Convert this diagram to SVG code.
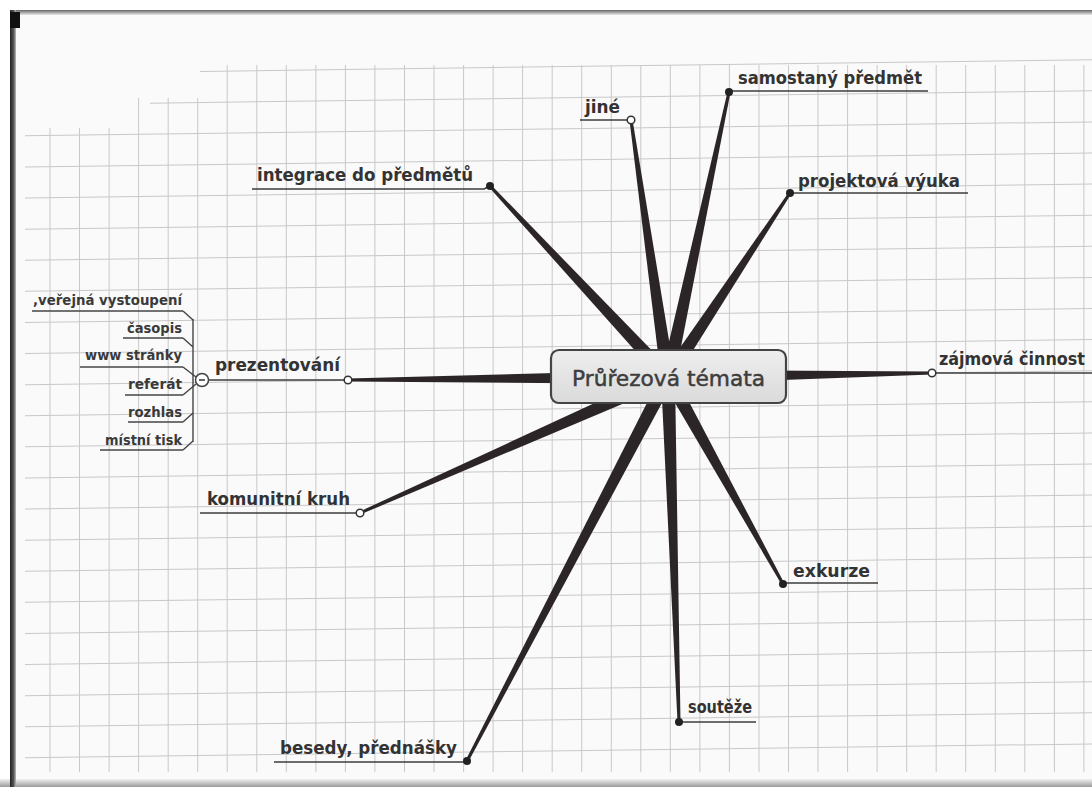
<svg xmlns="http://www.w3.org/2000/svg" width="1092" height="787" viewBox="0 0 1092 787">
<defs>
<linearGradient id="boxg" x1="0" y1="0" x2="0" y2="1">
<stop offset="0" stop-color="#eeeeee"/>
<stop offset="1" stop-color="#dadada"/>
</linearGradient>
<linearGradient id="topg" x1="0" y1="0" x2="0" y2="1">
<stop offset="0" stop-color="#666"/>
<stop offset="1" stop-color="#e8e8e8"/>
</linearGradient>
<linearGradient id="botg" x1="0" y1="0" x2="0" y2="1">
<stop offset="0" stop-color="#f2f2f2"/>
<stop offset="1" stop-color="#9a9a9a"/>
</linearGradient>
<linearGradient id="leftg" x1="0" y1="0" x2="1" y2="0">
<stop offset="0" stop-color="#222"/>
<stop offset="0.6" stop-color="#555"/>
<stop offset="1" stop-color="#bbb"/>
</linearGradient>
<style>
.grid line{stroke:#c8c8c8;stroke-width:1}
.wedge{fill:#2b2527}
.lbl{font-family:"DejaVu Sans",sans-serif;font-weight:bold;font-size:17px;fill:#333}
.sub{font-family:"DejaVu Sans",sans-serif;font-weight:bold;font-size:14px;fill:#3a3a3a}
.ul{stroke:#3c3c3c;stroke-width:1.6;fill:none}
.uls{stroke:#444;stroke-width:1.4;fill:none}
.dot{fill:#222}
.odot{fill:#fff;stroke:#333;stroke-width:1.5}
</style>
</defs>

<rect x="0" y="0" width="1092" height="787" fill="#fafafa"/>
<rect x="0" y="0" width="1092" height="10" fill="#fff"/>
<rect x="0" y="0" width="10" height="787" fill="#fff"/>

<g class="grid" id="grid">
<g id="vlines">
<line x1="50" y1="128" x2="50" y2="772"/>
<line x1="79.5" y1="128" x2="79.5" y2="772"/>
<line x1="109.1" y1="128" x2="109.1" y2="772"/>
<line x1="138.6" y1="98" x2="138.6" y2="772"/>
<line x1="168.2" y1="98" x2="168.2" y2="772"/>
<line x1="197.7" y1="98" x2="197.7" y2="772"/>
<line x1="227.2" y1="65" x2="227.2" y2="772"/>
<line x1="256.8" y1="65" x2="256.8" y2="772"/>
<line x1="286.3" y1="65" x2="286.3" y2="772"/>
<line x1="315.9" y1="65" x2="315.9" y2="772"/>
<line x1="345.4" y1="65" x2="345.4" y2="772"/>
<line x1="374.9" y1="65" x2="374.9" y2="772"/>
<line x1="404.5" y1="65" x2="404.5" y2="772"/>
<line x1="434" y1="65" x2="434" y2="772"/>
<line x1="463.6" y1="65" x2="463.6" y2="772"/>
<line x1="493.1" y1="65" x2="493.1" y2="772"/>
<line x1="522.6" y1="65" x2="522.6" y2="772"/>
<line x1="552.2" y1="65" x2="552.2" y2="772"/>
<line x1="581.7" y1="65" x2="581.7" y2="772"/>
<line x1="611.3" y1="65" x2="611.3" y2="772"/>
<line x1="640.8" y1="65" x2="640.8" y2="772"/>
<line x1="670.3" y1="65" x2="670.3" y2="772"/>
<line x1="699.9" y1="65" x2="699.9" y2="772"/>
<line x1="729.4" y1="65" x2="729.4" y2="772"/>
<line x1="759" y1="65" x2="759" y2="772"/>
<line x1="788.5" y1="65" x2="788.5" y2="772"/>
<line x1="818" y1="65" x2="818" y2="772"/>
<line x1="847.6" y1="65" x2="847.6" y2="772"/>
<line x1="877.1" y1="65" x2="877.1" y2="772"/>
<line x1="906.7" y1="65" x2="906.7" y2="772"/>
<line x1="936.2" y1="65" x2="936.2" y2="772"/>
<line x1="965.7" y1="65" x2="965.7" y2="772"/>
<line x1="995.3" y1="65" x2="995.3" y2="772"/>
<line x1="1024.8" y1="65" x2="1024.8" y2="772"/>
<line x1="1054.4" y1="65" x2="1054.4" y2="772"/>
<line x1="1083.9" y1="65" x2="1083.9" y2="772"/>
</g>
<g id="hlines" transform="skewY(-0.75)">
<line x1="200" y1="74" x2="1092" y2="74"/>
<line x1="150" y1="105.1" x2="1092" y2="105.1"/>
<line x1="25" y1="136.2" x2="1092" y2="136.2"/>
<line x1="25" y1="167.3" x2="1092" y2="167.3"/>
<line x1="25" y1="198.4" x2="1092" y2="198.4"/>
<line x1="25" y1="229.5" x2="1092" y2="229.5"/>
<line x1="25" y1="260.6" x2="1092" y2="260.6"/>
<line x1="25" y1="291.7" x2="1092" y2="291.7"/>
<line x1="25" y1="322.8" x2="1092" y2="322.8"/>
<line x1="25" y1="353.9" x2="1092" y2="353.9"/>
<line x1="25" y1="385" x2="1092" y2="385"/>
<line x1="25" y1="416.1" x2="1092" y2="416.1"/>
<line x1="25" y1="447.2" x2="1092" y2="447.2"/>
<line x1="25" y1="478.3" x2="1092" y2="478.3"/>
<line x1="25" y1="509.4" x2="1092" y2="509.4"/>
<line x1="25" y1="540.5" x2="1092" y2="540.5"/>
<line x1="25" y1="571.6" x2="1092" y2="571.6"/>
<line x1="25" y1="602.7" x2="1092" y2="602.7"/>
<line x1="25" y1="633.8" x2="1092" y2="633.8"/>
<line x1="25" y1="664.9" x2="1092" y2="664.9"/>
<line x1="25" y1="696" x2="1092" y2="696"/>
<line x1="25" y1="727.1" x2="1092" y2="727.1"/>
<line x1="25" y1="758.2" x2="1092" y2="758.2"/>
</g>
</g>

<!-- frame of the scan -->
<rect x="10" y="10" width="1082" height="5" fill="url(#topg)"/>
<rect x="0" y="779" width="1092" height="8" fill="url(#botg)"/>
<rect x="10" y="10" width="6" height="777" fill="url(#leftg)"/>
<rect x="10" y="12" width="10" height="16" fill="#111"/>

<g id="connectors">
<polygon class="wedge" points="0,-1.5 291.5,-7 291.5,7 0,1.5" transform="translate(729,92) rotate(102.08)"/>
<polygon class="wedge" points="0,-1.5 259.6,-7 259.6,7 0,1.5" transform="translate(631,120) rotate(81.81)"/>
<polygon class="wedge" points="0,-1.5 220.8,-7 220.8,7 0,1.5" transform="translate(790,193) rotate(123.55)"/>
<polygon class="wedge" points="0,-1.5 261.1,-7 261.1,7 0,1.5" transform="translate(490,186) rotate(47.02)"/>
<polygon class="wedge" points="0,-1.5 320,-7 320,7 0,1.5" transform="translate(348,380) rotate(-0.54)"/>
<polygon class="wedge" points="0,-1.5 264,-7 264,7 0,1.5" transform="translate(932,373) rotate(179.13)"/>
<polygon class="wedge" points="0,-1.5 336.7,-7 336.7,7 0,1.5" transform="translate(360,513) rotate(-23.82)"/>
<polygon class="wedge" points="0,-1.5 433.4,-7 433.4,7 0,1.5" transform="translate(467,761) rotate(-62.37)"/>
<polygon class="wedge" points="0,-1.5 345.2,-7 345.2,7 0,1.5" transform="translate(679,722) rotate(-91.83)"/>
<polygon class="wedge" points="0,-1.5 236.8,-7 236.8,7 0,1.5" transform="translate(783,584) rotate(-119.05)"/>
<!-- sub-branch bracket of prezentování -->
<path class="uls" d="M193,319 V442"/>
<path class="uls" d="M183,311 L193,320"/>
<path class="uls" d="M183,338 L193,347"/>
<path class="uls" d="M183,367 L196,377"/>
<path class="uls" d="M183,395 L196,384"/>
<path class="uls" d="M183,422 L193,413"/>
<path class="uls" d="M183,450 L193,441"/>
</g>

<g id="center">
<rect x="551" y="350" width="235" height="53" rx="8" ry="8" fill="url(#boxg)" stroke="#444" stroke-width="2.2"/>
<text x="668.5" y="385.5" text-anchor="middle" font-family="DejaVu Sans, sans-serif" font-size="22" fill="#3d3d3d" stroke="#3d3d3d" stroke-width="0.5" textLength="193" lengthAdjust="spacingAndGlyphs">Průřezová témata</text>
</g>

<g id="n-samostany">
<path class="ul" d="M729,91 H928"/>
<text class="lbl" x="738" y="84" textLength="184" lengthAdjust="spacingAndGlyphs">samostaný předmět</text>
<circle class="dot" cx="729" cy="92" r="4"/>
</g>
<g id="n-jine">
<path class="ul" d="M580,120 H631"/>
<text class="lbl" x="585" y="113" textLength="35" lengthAdjust="spacingAndGlyphs">jiné</text>
<circle class="odot" cx="631" cy="120" r="3.8"/>
</g>
<g id="n-projektova">
<path class="ul" d="M790,193 H968"/>
<text class="lbl" x="798" y="187" textLength="162" lengthAdjust="spacingAndGlyphs">projektová výuka</text>
<circle class="dot" cx="790" cy="193" r="4"/>
</g>
<g id="n-integrace">
<path class="ul" d="M252,189 H484 L490,186"/>
<text class="lbl" x="257" y="181" textLength="216" lengthAdjust="spacingAndGlyphs">integrace do předmětů</text>
<circle class="dot" cx="490" cy="186" r="4"/>
</g>
<g id="n-zajmova">
<path class="ul" d="M932,373 H1092"/>
<text class="lbl" x="939" y="365" textLength="146" lengthAdjust="spacingAndGlyphs">zájmová činnost</text>
<circle class="odot" cx="932" cy="373" r="3.8"/>
</g>
<g id="n-prezentovani">
<path class="ul" d="M208,380 H348"/>
<text class="lbl" x="215" y="371" textLength="125" lengthAdjust="spacingAndGlyphs">prezentování</text>
<circle class="odot" cx="348" cy="380" r="3.8"/>
<circle cx="202" cy="380" r="6.5" fill="#fff" stroke="#444" stroke-width="1.5"/>
<line x1="199" y1="380" x2="205" y2="380" stroke="#333" stroke-width="1.5"/>
</g>
<g id="n-verejna">
<path class="uls" d="M32,311 H183"/>
<text class="sub" x="182" y="305" text-anchor="end" textLength="149" lengthAdjust="spacingAndGlyphs">,veřejná vystoupení</text>
</g>
<g id="n-casopis">
<path class="uls" d="M123,338 H183"/>
<text class="sub" x="182" y="333" text-anchor="end" textLength="55" lengthAdjust="spacingAndGlyphs">časopis</text>
</g>
<g id="n-www">
<path class="uls" d="M80,367 H183"/>
<text class="sub" x="182" y="360" text-anchor="end" textLength="97" lengthAdjust="spacingAndGlyphs">www stránky</text>
</g>
<g id="n-referat">
<path class="uls" d="M125,395 H183"/>
<text class="sub" x="182" y="389" text-anchor="end" textLength="54" lengthAdjust="spacingAndGlyphs">referát</text>
</g>
<g id="n-rozhlas">
<path class="uls" d="M128,422 H183"/>
<text class="sub" x="182" y="417" text-anchor="end" textLength="54" lengthAdjust="spacingAndGlyphs">rozhlas</text>
</g>
<g id="n-mistni">
<path class="uls" d="M100,450 H183"/>
<text class="sub" x="182" y="445" text-anchor="end" textLength="77" lengthAdjust="spacingAndGlyphs">místní tisk</text>
</g>
<g id="n-komunitni">
<path class="ul" d="M200,513 H360"/>
<text class="lbl" x="207" y="505" textLength="143" lengthAdjust="spacingAndGlyphs">komunitní kruh</text>
<circle class="odot" cx="360" cy="513" r="3.8"/>
</g>
<g id="n-exkurze">
<path class="ul" d="M783,583 H878"/>
<text class="lbl" x="793" y="577" textLength="77" lengthAdjust="spacingAndGlyphs">exkurze</text>
<circle class="dot" cx="783" cy="584" r="4"/>
</g>
<g id="n-souteze">
<path class="ul" d="M679,722 H756"/>
<text class="lbl" x="688" y="713" textLength="64" lengthAdjust="spacingAndGlyphs">soutěže</text>
<circle class="dot" cx="679" cy="722" r="4"/>
</g>
<g id="n-besedy">
<path class="ul" d="M274,762 H467"/>
<text class="lbl" x="280" y="754" textLength="177" lengthAdjust="spacingAndGlyphs">besedy, přednášky</text>
<circle class="dot" cx="467" cy="761" r="4"/>
</g>
</svg>
